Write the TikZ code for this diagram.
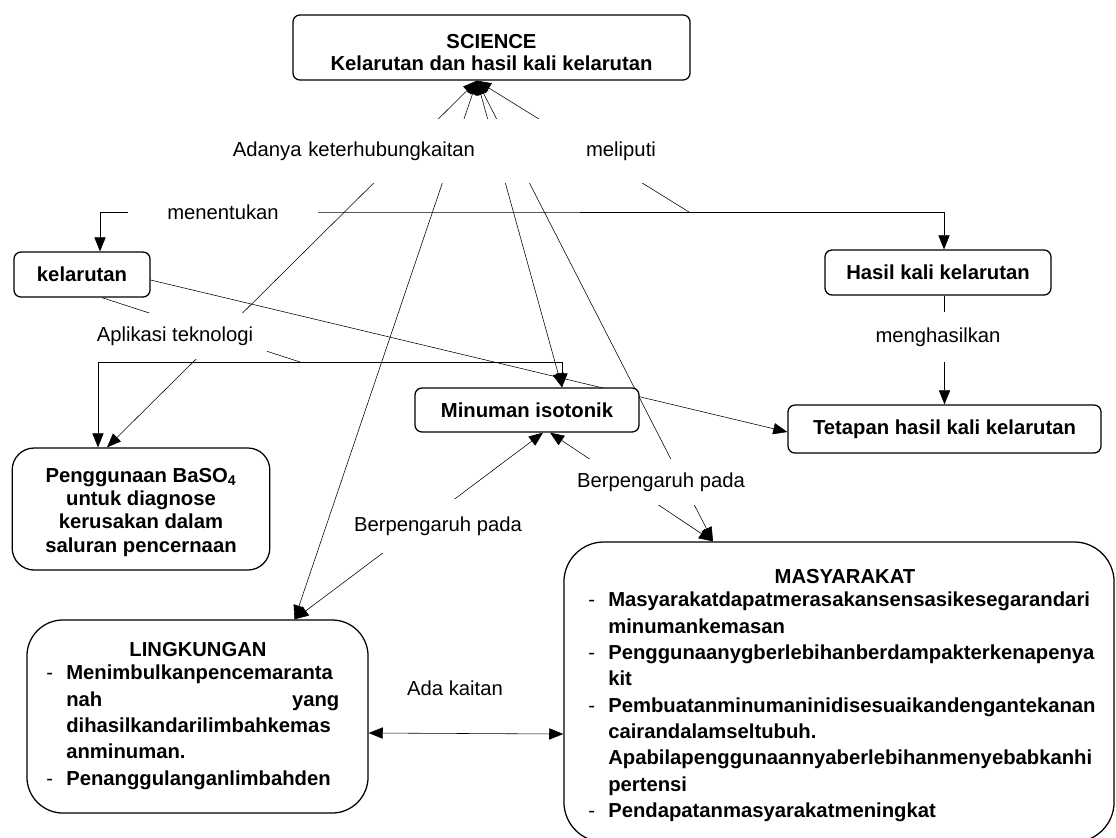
\documentclass[tikz,border=0pt]{standalone}
\usepackage{fontspec}
\setmainfont{Liberation Sans}
\usetikzlibrary{arrows.meta,positioning,calc,backgrounds}
\tikzset{
  concept/.style  = {rectangle, rounded corners=5pt, draw=black, line width=0.9pt,
                     fill=white, align=center, inner sep=2pt,
                     font=\bfseries\fontsize{14.4pt}{15.6pt}\selectfont},
  bigbox/.style   = {rectangle, draw=black, line width=0.9pt, fill=white},
  boxtitle/.style = {inner sep=0pt, font=\bfseries\fontsize{14.4pt}{16pt}\selectfont},
  linkword/.style = {fill=white, inner sep=1pt, font=\fontsize{14.4pt}{16pt}\selectfont},
  listtext/.style = {anchor=north west, inner sep=0pt, align=left,
                     font=\bfseries\fontsize{14.4pt}{18.7pt}\selectfont},
  arr/.style      = {-{Triangle[length=10pt,width=8pt]}},
  darr/.style     = {{Triangle[length=10pt,width=8pt]}-{Triangle[length=10pt,width=8pt]}},
  rarr/.style     = {{Triangle[length=10pt,width=8pt]}-},
}
\newcommand{\dashitem}{\makebox[0.5cm][l]{\mdseries -}}
\newcommand{\contitem}{\hspace*{0.5cm}}

\begin{document}
\begin{tikzpicture}[x=0.025cm, y=-0.025cm]
\useasboundingbox (0,0) rectangle (1116,837);

%% concepts
\node[concept, minimum width=9.925cm, minimum height=1.625cm]
  (science) at (491.5,47.5) {\rule{0pt}{17.5pt}SCIENCE\\Kelarutan dan hasil kali kelarutan};
\node[concept, minimum width=3.4cm, minimum height=1.125cm]
  (kelarutan) at (82,274.5) {kelarutan};
\node[concept, minimum width=5.65cm, minimum height=1.125cm]
  (hasil) at (938,272.5) {Hasil kali kelarutan};
\node[concept, minimum width=7.825cm, minimum height=1.2cm]
  (tetapan) at (944.5,429) {Tetapan hasil kali kelarutan};
\node[concept, minimum width=5.6cm, minimum height=1.1cm]
  (minuman) at (527,410) {Minuman isotonik};
\node[concept, rounded corners=0.55cm, minimum width=6.44cm, minimum height=3.05cm,
      font=\bfseries\fontsize{14.4pt}{16.4pt}\selectfont]
  (penggunaan) at (141,509) {\rule{0pt}{15pt}Penggunaan BaSO\textsubscript{4}\\untuk diagnose\\kerusakan dalam\\saluran pencernaan};

%% LINGKUNGAN
\node[bigbox, rounded corners=0.9cm, minimum width=8.525cm, minimum height=4.825cm]
  (lingkungan) at (197.5,716.5) {};
\node[boxtitle] (lingtitle) at (198,650) {LINGKUNGAN};
\node[listtext, text width=7.4cm] (linglist) at (46,665) {%
  \dashitem Menimbulkanpencemaranta\\
  \contitem\hbox to 6.825cm{nah\hfill yang}\\
  \contitem dihasilkandarilimbahkemas\\
  \contitem anminuman.\\
  \dashitem Penanggulanganlimbahden};

%% MASYARAKAT
\node[bigbox, rounded corners=1cm, minimum width=13.75cm, minimum height=7.5cm]
  (masy) at (839,692) {};
\node[boxtitle] (masytitle) at (845,577) {MASYARAKAT};
\node[listtext, text width=13cm] (masylist) at (588,592) {%
  \dashitem Masyarakatdapatmerasakansensasikesegarandari\\
  \contitem minumankemasan\\
  \dashitem Penggunaanygberlebihanberdampakterkenapenya\\
  \contitem kit\\
  \dashitem Pembuatanminumaninidisesuaikandengantekanan\\
  \contitem cairandalamseltubuh.\\
  \contitem Apabilapenggunaannyaberlebihanmenyebabkanhi\\
  \contitem pertensi\\
  \dashitem Pendapatanmasyarakatmeningkat};

%% linking words
\node[linkword, text width=8.3cm, align=left, inner xsep=0pt, minimum height=1.6cm]
  (adanya) at (399,151) {Adanya keterhubungkaitan};
\node[linkword, minimum width=3cm, minimum height=1.6cm] (meliputi) at (621,151) {meliputi};
\node[linkword, minimum width=4.75cm] (menentukan) at (223,212) {menentukan};
\node[linkword, minimum width=4.6cm, minimum height=1.15cm] (aplikasi) at (175,336) {Aplikasi teknologi};
\node[linkword, minimum width=3.4cm, minimum height=1.25cm] (menghasilkan) at (938,337) {menghasilkan};
\node[linkword, minimum width=4.5cm, minimum height=1.35cm] (berpL) at (438,526) {Berpengaruh pada};
\node[linkword, minimum width=4.4cm, minimum height=1.15cm] (berpR) at (661,482) {Berpengaruh pada};
\node[linkword] (adakaitan) at (455,688) {Ada kaitan};

\coordinate (hub) at ($(science.south)+(-14.5,0)$);
\coordinate (meljoin) at (689,212);
\coordinate (apjoin) at (300,362);

%% connectors
\begin{scope}[on background layer, line width=0.9pt]
\draw[darr] (hub) -- ($(penggunaan.north)+(-34,0)$);
\draw[darr] (hub) -- ($(lingkungan.north)+(97,0)$);
\draw[darr] (hub) -- ($(minuman.north)+(35,0)$);
\draw[darr] (hub) -- ($(masy.north)+(-126,0)$);
\draw[rarr] (hub) -- (meljoin);
\draw[darr] ($(kelarutan.north)+(18,0)$) |- (menentukan.center) -| ($(hasil.north)+(6,0)$);
\draw ($(kelarutan.south)+(20,0)$) -- (apjoin);
\draw[darr] ($(penggunaan.north)+(-43,0)$) |- (apjoin) -| ($(minuman.north)+(35,0)$);
\draw[arr] ($(kelarutan.east)+(0,5.5)$) -- ($(tetapan.west)+(0,3)$);
\draw[arr] (hasil.south -| tetapan.north) -- (tetapan.north);
\draw[darr] ($(minuman.south)+(16,0)$) -- ($(lingkungan.north)+(97,0)$);
\draw[darr] ($(minuman.south)+(23,0)$) -- ($(masy.north)+(-126,0)$);
\draw[darr] ($(lingkungan.east)+(0,16.5)$) -- ($(masy.west)+(0,42)$);
\end{scope}

\end{tikzpicture}
\end{document}
